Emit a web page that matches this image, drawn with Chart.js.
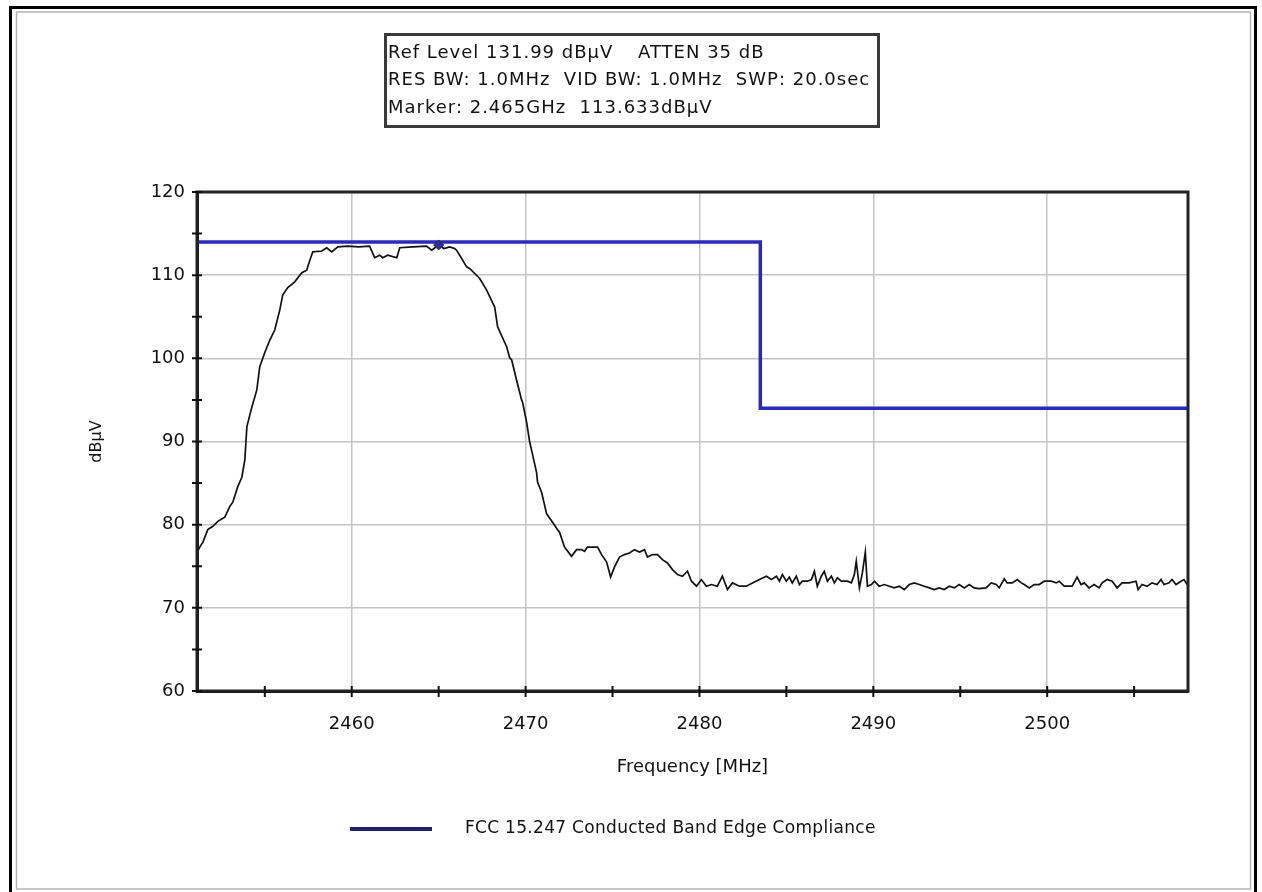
<!DOCTYPE html>
<html>
<head>
<meta charset="utf-8">
<title>Band Edge</title>
<script src="https://cdn.jsdelivr.net/npm/chart.js@4.4.1/dist/chart.umd.min.js"></script>
<style>
  html, body { margin: 0; padding: 0; background: #fff; }
  #wrap { width: 1262px; height: 892px; }
</style>
</head>
<body>
<div id="wrap"><canvas id="grafico" width="1262" height="892"></canvas></div>
<script>
// Varredura do analisador (MHz / dBµV)
const freq = [
  2451.09, 2451.26, 2451.44, 2451.72, 2452.01, 2452.30, 2452.70, 2452.99, 2453.16, 2453.45,
  2453.68, 2453.85, 2453.97, 2454.25, 2454.54, 2454.71, 2455.00, 2455.29, 2455.57, 2455.86,
  2456.03, 2456.32, 2456.72, 2457.13, 2457.41, 2457.59, 2457.76, 2458.28, 2458.56, 2458.85,
  2459.20, 2459.77, 2460.40, 2461.03, 2461.32, 2461.61, 2461.78, 2462.07, 2462.59, 2462.76,
  2463.51, 2464.30, 2464.60, 2465.00, 2465.30, 2465.63, 2465.92, 2466.03, 2466.21, 2466.61,
  2466.78, 2467.36, 2467.76, 2468.10, 2468.22, 2468.39, 2468.91, 2469.08, 2469.20, 2469.48,
  2469.77, 2469.83, 2470.06, 2470.23, 2470.34, 2470.63, 2470.69, 2470.92, 2471.21, 2471.55,
  2471.84, 2471.95, 2472.24, 2472.64, 2472.93, 2473.22, 2473.39, 2473.56, 2473.85, 2474.14,
  2474.37, 2474.66, 2474.89, 2475.11, 2475.40, 2475.69, 2475.98, 2476.26, 2476.55, 2476.84,
  2477.01, 2477.30, 2477.59, 2477.87, 2478.16, 2478.45, 2478.74, 2479.02, 2479.31, 2479.54,
  2479.83, 2480.11, 2480.40, 2480.69, 2481.03, 2481.32, 2481.61, 2481.90, 2482.30, 2482.70,
  2483.05, 2483.45, 2483.85, 2484.14, 2484.43, 2484.60, 2484.77, 2485.00, 2485.17, 2485.34,
  2485.57, 2485.75, 2485.92, 2486.21, 2486.44, 2486.61, 2486.78, 2487.01, 2487.18, 2487.36,
  2487.59, 2487.76, 2487.93, 2488.16, 2488.51, 2488.74, 2488.91, 2489.02, 2489.20, 2489.37,
  2489.54, 2489.66, 2489.89, 2490.06, 2490.34, 2490.63, 2490.92, 2491.21, 2491.49, 2491.78,
  2492.07, 2492.36, 2492.64, 2492.93, 2493.22, 2493.51, 2493.79, 2494.08, 2494.37, 2494.66,
  2494.94, 2495.23, 2495.52, 2495.80, 2496.09, 2496.49, 2496.78, 2497.07, 2497.24, 2497.53,
  2497.70, 2497.99, 2498.28, 2498.51, 2498.68, 2498.97, 2499.25, 2499.54, 2499.83, 2500.23,
  2500.52, 2500.69, 2500.98, 2501.44, 2501.72, 2501.95, 2502.13, 2502.41, 2502.70, 2502.99,
  2503.16, 2503.45, 2503.74, 2504.02, 2504.31, 2504.71, 2505.11, 2505.23, 2505.46, 2505.75,
  2506.03, 2506.32, 2506.55, 2506.72, 2507.01, 2507.18, 2507.41, 2507.70, 2507.87, 2508.05
];
const level = [
  76.6, 77.3, 77.9, 79.4, 79.8, 80.4, 80.9, 82.2, 82.7, 84.6,
  85.7, 87.8, 91.8, 94.1, 96.2, 99.0, 100.7, 102.2, 103.4, 105.8,
  107.6, 108.5, 109.2, 110.3, 110.6, 111.8, 112.8, 112.9, 113.3, 112.8,
  113.4, 113.5, 113.4, 113.5, 112.1, 112.4, 112.1, 112.4, 112.1, 113.3,
  113.4, 113.5, 113.0, 113.633, 113.2, 113.4, 113.2, 113.0, 112.4, 111.0,
  110.8, 109.6, 108.2, 106.7, 106.2, 103.8, 101.4, 100.1, 99.8, 97.4,
  95.0, 94.7, 92.3, 90.0, 89.0, 86.3, 85.1, 83.9, 81.3, 80.3,
  79.4, 79.1, 77.3, 76.2, 77.0, 77.0, 76.8, 77.3, 77.3, 77.3,
  76.4, 75.5, 73.7, 74.9, 76.1, 76.4, 76.6, 77.0, 76.7, 77.0,
  76.1, 76.4, 76.4, 75.8, 75.4, 74.6, 74.0, 73.8, 74.4, 73.2,
  72.6, 73.4, 72.6, 72.8, 72.6, 73.8, 72.2, 73.0, 72.6, 72.6,
  73.0, 73.4, 73.8, 73.4, 73.8, 73.2, 74.0, 73.2, 73.7, 73.0,
  73.8, 72.8, 73.2, 73.2, 73.4, 74.4, 72.6, 73.8, 74.4, 73.2,
  73.8, 73.0, 73.6, 73.2, 73.2, 73.0, 74.0, 75.6, 72.4, 74.2,
  76.7, 72.6, 72.8, 73.2, 72.6, 72.8, 72.6, 72.4, 72.6, 72.2,
  72.8, 73.0, 72.8, 72.6, 72.4, 72.2, 72.4, 72.2, 72.6, 72.4,
  72.8, 72.4, 72.8, 72.4, 72.3, 72.4, 73.0, 72.8, 72.4, 73.5,
  73.0, 73.0, 73.4, 73.0, 72.8, 72.4, 72.8, 72.8, 73.2, 73.2,
  73.0, 73.2, 72.6, 72.6, 73.7, 72.8, 73.0, 72.4, 72.8, 72.4,
  73.0, 73.4, 73.2, 72.4, 73.0, 73.0, 73.2, 72.2, 72.8, 72.6,
  73.0, 72.8, 73.4, 72.8, 73.0, 73.4, 72.8, 73.2, 73.4, 72.8
];

// Linha limite FCC 15.247 (degrau na borda da banda, 2483.5 MHz)
const limitFreq = [2451.1, 2483.5, 2483.5, 2508.1];
const limitLevel = [114, 114, 94, 94];

// Marcador
const markerFreq = 2465;
const markerLevel = 113.633;

const xMin = 2451.1, xMax = 2508.1;
const yMin = 60, yMax = 120;
const xTicks = [2455, 2460, 2465, 2470, 2475, 2480, 2485, 2490, 2495, 2500, 2505];

// cabeçalho: [texto, x]
const infoLines = [
  [['Ref Level 131.99 dBµV', 388], ['ATTEN 35 dB', 638]],
  [['RES BW: 1.0MHz  VID BW: 1.0MHz  SWP: 20.0sec', 388]],
  [['Marker: 2.465GHz  113.633dBµV', 388]]
];
const legendText = 'FCC 15.247 Conducted Band Edge Compliance';

const FONTE = '"DejaVu Sans", sans-serif';
Chart.defaults.font.family = FONTE;
Chart.defaults.font.size = 18;
Chart.defaults.color = '#111';

const pontos = (xs, ys) => xs.map((v, i) => ({ x: v, y: ys[i] }));

// moldura, caixa de parâmetros, marcas dos eixos e legenda
const moldura = {
  id: 'moldura',
  afterDraw(chart) {
    const { ctx, chartArea: a, scales: { x, y } } = chart;
    ctx.save();

    // borda externa
    ctx.strokeStyle = '#000';
    ctx.lineWidth = 3;
    ctx.strokeRect(10.5, 7.5, 1245, 890);
    ctx.strokeStyle = '#b4b4b4';
    ctx.lineWidth = 1.5;
    ctx.strokeRect(16.5, 12, 1234, 877);

    // borda da área do gráfico
    ctx.strokeStyle = '#222';
    ctx.lineWidth = 3;
    ctx.strokeRect(a.left, a.top, a.right - a.left, a.bottom - a.top);

    // marcas cruzando os eixos
    ctx.strokeStyle = '#111';
    ctx.lineWidth = 2;
    ctx.beginPath();
    y.ticks.forEach(t => {
      const py = y.getPixelForValue(t.value);
      ctx.moveTo(a.left - 5, py);
      ctx.lineTo(a.left + 5, py);
    });
    x.ticks.forEach(t => {
      const px = x.getPixelForValue(t.value);
      ctx.moveTo(px, a.bottom - 5);
      ctx.lineTo(px, a.bottom + 6);
    });
    ctx.stroke();

    // caixa de parâmetros
    ctx.fillStyle = '#fff';
    ctx.fillRect(385, 34, 494, 93);
    ctx.strokeStyle = '#3a3a3a';
    ctx.lineWidth = 3;
    ctx.strokeRect(385.5, 34.5, 493, 92);
    ctx.fillStyle = '#111';
    ctx.font = '18px ' + FONTE;
    ctx.letterSpacing = '1px';
    ctx.textBaseline = 'middle';
    ctx.textAlign = 'left';
    infoLines.forEach((linha, i) => {
      linha.forEach(([t, px]) => ctx.fillText(t, px, 53 + i * 27.5));
    });

    // legenda
    ctx.strokeStyle = '#1e1e78';
    ctx.lineWidth = 4;
    ctx.beginPath();
    ctx.moveTo(350, 829);
    ctx.lineTo(432, 829);
    ctx.stroke();
    ctx.font = '17px ' + FONTE;
    ctx.letterSpacing = '0.3px';
    ctx.fillText(legendText, 465, 829);

    ctx.restore();
  }
};

new Chart(document.getElementById('grafico'), {
  type: 'scatter',
  data: {
    datasets: [
      {
        label: 'Marker',
        data: [{ x: markerFreq, y: markerLevel }],
        pointStyle: 'rectRot',
        pointRadius: 5,
        backgroundColor: '#2a2ab4',
        borderColor: '#333',
        borderWidth: 1
      },
      {
        label: legendText,
        data: pontos(limitFreq, limitLevel),
        showLine: true,
        borderColor: '#2828c8',
        borderWidth: 3.5,
        pointRadius: 0
      },
      {
        label: 'Trace',
        data: pontos(freq, level),
        showLine: true,
        borderColor: '#111',
        borderWidth: 1.7,
        pointRadius: 0
      }
    ]
  },
  options: {
    responsive: false,
    animation: false,
    layout: { padding: { left: 80, right: 74, top: 192, bottom: 105 } },
    plugins: { legend: { display: false }, tooltip: { enabled: false } },
    scales: {
      x: {
        type: 'linear',
        min: xMin,
        max: xMax,
        afterFit: s => { s.height = 96; },
        afterBuildTicks: s => { s.ticks = xTicks.map(v => ({ value: v })); },
        ticks: {
          autoSkip: false,
          maxRotation: 0,
          padding: 23,
          callback: v => (v % 10 === 0 ? String(v) : '')
        },
        grid: {
          drawTicks: false,
          color: c => (c.tick && c.tick.value % 10 === 0 ? '#c4c4c4' : 'rgba(0,0,0,0)'),
          lineWidth: 1.5
        },
        border: { display: true, color: '#111', width: 3 },
        title: { display: true, text: 'Frequency [MHz]', font: { size: 18 }, padding: { bottom: 9 } }
      },
      y: {
        min: yMin,
        max: yMax,
        afterFit: s => { s.width = 117; },
        ticks: {
          stepSize: 5,
          padding: 12,
          callback: v => (v % 10 === 0 ? String(v) : '')
        },
        grid: {
          drawTicks: false,
          color: c => (c.tick && c.tick.value % 10 === 0 ? '#c4c4c4' : 'rgba(0,0,0,0)'),
          lineWidth: 1.5
        },
        border: { display: true, color: '#111', width: 3 },
        title: { display: true, text: 'dBµV', font: { size: 16 }, padding: { top: 7 } }
      }
    }
  },
  plugins: [moldura]
});
</script>
</body>
</html>
